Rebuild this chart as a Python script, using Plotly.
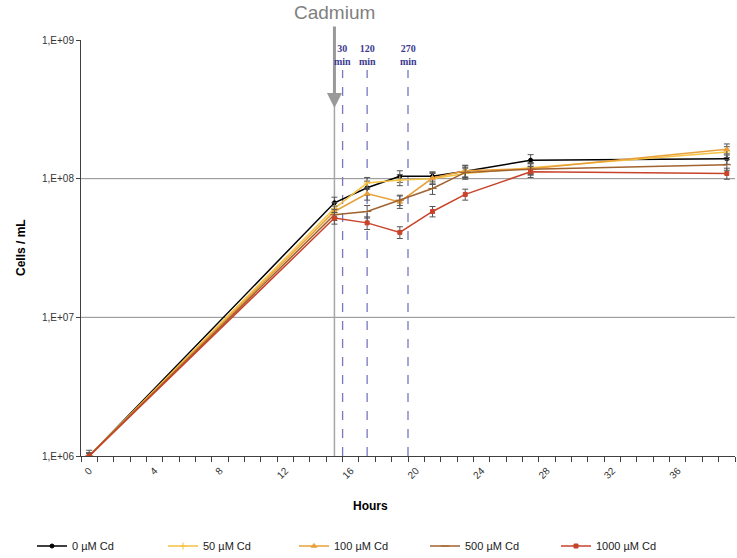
import plotly.graph_objects as go

hours = [0, 15, 17, 19, 21, 23, 27, 39]
series_names = ["0 µM Cd", "50 µM Cd", "100 µM Cd", "500 µM Cd", "1000 µM Cd"]
c0 = [1.0e6, 6.7e7, 8.6e7, 1.04e8, 1.04e8, 1.13e8, 1.36e8, 1.39e8]
c50 = [1.0e6, 6.1e7, 9.3e7, 9.8e7, 1.0e8, 1.09e8, 1.20e8, 1.56e8]
c100 = [1.0e6, 5.8e7, 7.8e7, 6.8e7, 1.01e8, 1.14e8, 1.18e8, 1.63e8]
c500 = [1.0e6, 5.5e7, 5.8e7, 7.0e7, 8.5e7, 1.11e8, 1.17e8, 1.26e8]
c1000 = [1.0e6, 5.2e7, 4.8e7, 4.1e7, 5.8e7, 7.7e7, 1.12e8, 1.09e8]

e0 = [0.05e6, 0.65e7, 1.0e7, 1.0e7, 0.8e7, 1.1e7, 1.3e7, 1.2e7]
e50 = [0.05e6, 0.6e7, 0.9e7, 0.9e7, 0.9e7, 1.0e7, 1.1e7, 1.4e7]
e100 = [0.05e6, 0.55e7, 0.8e7, 0.7e7, 1.0e7, 1.1e7, 1.1e7, 1.5e7]
e500 = [0.05e6, 0.5e7, 0.6e7, 0.6e7, 0.8e7, 1.0e7, 1.1e7, 1.1e7]
e1000 = [0.1e6, 0.5e7, 0.5e7, 0.4e7, 0.5e7, 0.7e7, 1.0e7, 1.0e7]

x_tick_vals = [0, 4, 8, 12, 16, 20, 24, 28, 32, 36]
y_tick_vals = [1e6, 1e7, 1e8, 1e9]
y_tick_text = ["1,E+06", "1,E+07", "1,E+08", "1,E+09"]
grid_vals = [1e7, 1e8]
cd_time = 15
sample_times = [15.5, 17, 19.5]
sample_labels = ["30<br>min", "120<br>min", "270<br>min"]

colors = ["#000000", "#F5C242", "#E9A03A", "#A0622E", "#C8432A"]
symbols = ["circle", "cross-thin", "triangle-up", "line-ew", "square"]
sizes = [4, 5, 5, 6, 4]
vals = [c0, c50, c100, c500, c1000]
errs = [e0, e50, e100, e500, e1000]

fig = go.Figure()
for name, v, e, col, sym, sz in zip(series_names, vals, errs, colors, symbols, sizes):
    fig.add_trace(go.Scatter(
        x=hours, y=v, name=name, mode="lines+markers",
        line=dict(color=col, width=1.5),
        marker=dict(color=col, symbol=sym, size=sz, line=dict(color=col, width=1)),
        error_y=dict(type="data", array=e, visible=True, color="#555555", thickness=1, width=3),
    ))

shapes = []
for g in grid_vals:
    shapes.append(dict(type="line", xref="paper", x0=0, x1=1, yref="y", y0=g, y1=g,
                       line=dict(color="#8C8C8C", width=1), layer="below"))
shapes.append(dict(type="line", xref="x", x0=cd_time, x1=cd_time, yref="paper", y0=0, y1=0.845,
                   line=dict(color="#A6A6A6", width=1.5), layer="below"))
for t in sample_times:
    shapes.append(dict(type="line", xref="x", x0=t, x1=t, yref="paper", y0=0, y1=0.928,
                       line=dict(color="#7878C0", width=1.3, dash="dash"), layer="below"))

annotations = [
    dict(text="Cadmium", x=cd_time, xref="x", y=(456 - 12) / 416, yref="paper", showarrow=False,
         font=dict(family="Liberation Sans, Arial", size=19, color="#7F7F7F"), yanchor="middle"),
    dict(text="", x=cd_time, xref="x", y=8.51, yref="y", showarrow=True, ax=0, ay=-83,
         arrowhead=2, arrowsize=1, arrowwidth=3, arrowcolor="#999999", standoff=0),
    dict(text="<b>Hours</b>", x=(370 - 81) / 654, xref="paper", y=(456 - 515) / 416, yref="paper", showarrow=False,
         font=dict(family="Liberation Sans, Arial", size=12, color="#000000")),
    dict(text="<b>Cells / mL</b>", x=(12 - 81) / 654, xref="paper", y=0.5, yref="paper", showarrow=False,
         textangle=-90, font=dict(family="Liberation Sans, Arial", size=12, color="#000000")),
]
for t, lab in zip(sample_times, sample_labels):
    annotations.append(dict(text="<b>" + lab + "</b>", x=t, xref="x", y=(456 - 55) / 416, yref="paper",
                            showarrow=False, yanchor="middle",
                            font=dict(family="Liberation Serif, DejaVu Serif", size=10, color="#3B3B8F")))

fig.update_layout(
    width=737, height=558,
    margin=dict(l=81, r=2, t=40, b=102),
    paper_bgcolor="white", plot_bgcolor="white",
    font=dict(family="Liberation Sans, Arial", size=10, color="#333333"),
    showlegend=True,
    legend=dict(orientation="h", xref="container", x=32 / 737, xanchor="left",
                yref="container", y=1 - 546 / 558, yanchor="middle",
                entrywidth=86, entrywidthmode="pixels", itemwidth=30,
                font=dict(family="Liberation Sans, Arial", size=11, color="#222222"),
                bgcolor="rgba(0,0,0,0)"),
    shapes=shapes,
    annotations=annotations,
    xaxis=dict(range=[-0.5, 39.5], tickvals=x_tick_vals, tickangle=-45, ticks="",
               ticklabelstandoff=4,
               showgrid=False, zeroline=False, showline=True, linecolor="#404040", linewidth=1,
               tickfont=dict(size=10, color="#333333"),
               minor=dict(tick0=-0.5, dtick=1, ticks="outside", ticklen=5, tickcolor="#404040", showgrid=False)),
    yaxis=dict(type="log", range=[6, 9], tickvals=y_tick_vals, ticktext=y_tick_text,
               ticks="outside", ticklen=4, tickcolor="#404040",
               showgrid=False, zeroline=False, showline=True, linecolor="#404040", linewidth=1,
               tickfont=dict(size=10, color="#333333")),
)

fig.write_html("out.html", config={"displayModeBar": False},
               post_script="document.body.style.margin='0';document.body.style.overflow='hidden';")
